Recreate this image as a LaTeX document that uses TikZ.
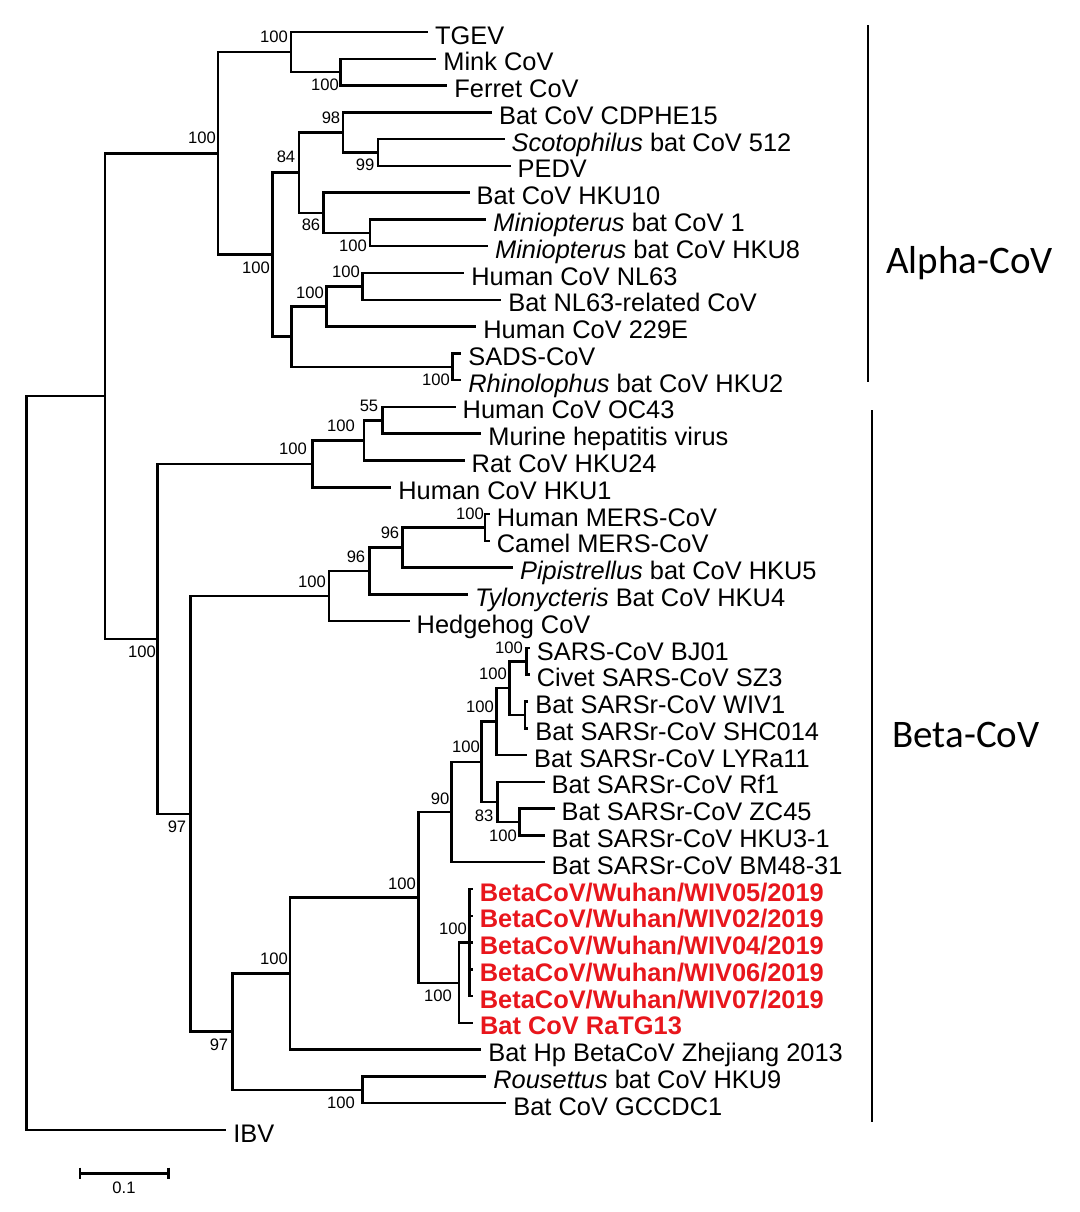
\documentclass[tikz,border=0pt]{standalone}
\usepackage{fontspec}
\setmainfont{Liberation Sans}
\newfontfamily\grpfont{Carlito}
\definecolor{wred}{RGB}{232,22,28}
\begin{document}
\begin{tikzpicture}[x=0.5pt,y=-0.5pt,
  br/.style={line width=1.25pt, line join=miter, line cap=rect},
  bar/.style={line width=1.2pt},
  leaf/.style={anchor=base west, inner sep=0pt, xshift=4pt, yshift=-6pt, font=\fontsize{12.7}{14}\selectfont},
  redleaf/.style={leaf, text=wred, font=\fontsize{12.7}{14}\selectfont\bfseries},
  bs/.style={inner sep=0pt, font=\fontsize{8.3}{9}\selectfont},
  grp/.style={anchor=west, inner sep=0pt, font=\grpfont\fontsize{19.5}{22}\selectfont}]
\useasboundingbox (0,0) rectangle (1080,1212);
\fill[white] (0,0) rectangle (1080,1212);
% leaf ends
\coordinate (e0) at (426.7,32.0);
\coordinate (e1) at (435,58.8);
\coordinate (e2) at (446,85.6);
\coordinate (e3) at (490.7,112.3);
\coordinate (e4) at (503.3,139.1);
\coordinate (e5) at (509.3,165.9);
\coordinate (e6) at (468.3,192.7);
\coordinate (e7) at (485,219.5);
\coordinate (e8) at (486.7,246.2);
\coordinate (e9) at (463,273.0);
\coordinate (e10) at (500,299.8);
\coordinate (e11) at (475,326.6);
\coordinate (e12) at (460,353.4);
\coordinate (e13) at (460,380.1);
\coordinate (e14) at (454.3,406.9);
\coordinate (e15) at (480,433.7);
\coordinate (e16) at (463.3,460.5);
\coordinate (e17) at (390,487.3);
\coordinate (e18) at (488.5,514.0);
\coordinate (e19) at (488.5,540.8);
\coordinate (e20) at (511.7,567.6);
\coordinate (e21) at (466.7,594.4);
\coordinate (e22) at (408.3,621.2);
\coordinate (e23) at (528.5,648.0);
\coordinate (e24) at (528.5,674.7);
\coordinate (e25) at (527,701.5);
\coordinate (e26) at (527,728.3);
\coordinate (e27) at (525.7,755.1);
\coordinate (e28) at (543.3,781.8);
\coordinate (e29) at (553.3,808.6);
\coordinate (e30) at (543.3,835.4);
\coordinate (e31) at (543.3,862.2);
\coordinate (e32) at (471.5,889.0);
\coordinate (e33) at (471.5,915.8);
\coordinate (e34) at (471.5,942.5);
\coordinate (e35) at (471.5,969.3);
\coordinate (e36) at (471.5,996.1);
\coordinate (e37) at (471.7,1022.9);
\coordinate (e38) at (480,1049.6);
\coordinate (e39) at (485,1076.4);
\coordinate (e40) at (505,1103.2);
\coordinate (e41) at (225,1130.0);
% internal nodes
\coordinate (nmf) at (340.7,72.2);
\coordinate (ntg) at (291,52.1);
\coordinate (n99) at (378,152.5);
\coordinate (n98) at (343,132.4);
\coordinate (nmini) at (370,232.9);
\coordinate (n86) at (323.3,212.8);
\coordinate (n84) at (299,172.6);
\coordinate (nnl) at (362.7,286.4);
\coordinate (nnl2) at (326.7,306.5);
\coordinate (nsads) at (452.7,366.8);
\coordinate (ndup) at (291.7,336.6);
\coordinate (na2) at (272.5,254.6);
\coordinate (nalpha) at (218,153.4);
\coordinate (n55) at (382.3,420.3);
\coordinate (ne2) at (364,440.4);
\coordinate (ne1) at (312.3,463.9);
\coordinate (nmers) at (485,527.4);
\coordinate (n96a) at (402.7,547.5);
\coordinate (n96b) at (369.3,571.0);
\coordinate (nmerb) at (329,596.1);
\coordinate (nbj) at (526.7,661.4);
\coordinate (nwiv) at (525,714.9);
\coordinate (ns3) at (509.3,688.2);
\coordinate (ns2) at (496.7,721.7);
\coordinate (nzc) at (519.3,822.0);
\coordinate (n83) at (497.3,801.9);
\coordinate (ns1) at (481.7,761.8);
\coordinate (n90) at (451.7,812.0);
\coordinate (nred) at (469.3,942.6);
\coordinate (nrt) at (459,982.8);
\coordinate (nsc2) at (418.3,897.4);
\coordinate (nsarb) at (290,973.5);
\coordinate (nhku9) at (362.7,1089.8);
\coordinate (n97) at (232.3,1031.7);
\coordinate (nb2) at (190.7,813.9);
\coordinate (nbeta) at (157.3,638.9);
\coordinate (nab) at (105,396.2);
\coordinate (root) at (26.7,763.1);
% branches
\foreach \p/\c in {root/nab, root/e41, nab/nalpha, nab/nbeta,
  nalpha/ntg, nalpha/na2, ntg/e0, ntg/nmf, nmf/e1, nmf/e2,
  na2/n84, na2/ndup, n84/n98, n84/n86, n98/e3, n98/n99, n99/e4, n99/e5,
  n86/e6, n86/nmini, nmini/e7, nmini/e8, ndup/nnl2, ndup/nsads,
  nnl2/nnl, nnl2/e11, nnl/e9, nnl/e10, nsads/e12, nsads/e13,
  nbeta/ne1, nbeta/nb2, ne1/ne2, ne1/e17, ne2/n55, ne2/e16, n55/e14, n55/e15,
  nb2/nmerb, nb2/n97, nmerb/n96b, nmerb/e22, n96b/n96a, n96b/e21,
  n96a/nmers, n96a/e20, nmers/e18, nmers/e19,
  n97/nsarb, n97/nhku9, nsarb/nsc2, nsarb/e38, nsc2/n90, nsc2/nrt,
  n90/ns1, n90/e31, ns1/ns2, ns1/n83, ns2/ns3, ns2/e27, ns3/nbj, ns3/nwiv,
  nbj/e23, nbj/e24, nwiv/e25, nwiv/e26, n83/e28, n83/nzc, nzc/e29, nzc/e30,
  nrt/nred, nrt/e37, nred/e32, nred/e33, nred/e34, nred/e35, nred/e36,
  nhku9/e39, nhku9/e40}
  \draw[br] (\p) |- (\c);
% leaf labels
\node[leaf] (t0) at (e0) {TGEV};
\node[leaf] (t1) at (e1) {Mink CoV};
\node[leaf] (t2) at (e2) {Ferret CoV};
\node[leaf] (t3) at (e3) {Bat CoV CDPHE15};
\node[leaf] (t4) at (e4) {\textit{Scotophilus} bat CoV 512};
\node[leaf] (t5) at (e5) {PEDV};
\node[leaf] (t6) at (e6) {Bat CoV HKU10};
\node[leaf] (t7) at (e7) {\textit{Miniopterus} bat CoV 1};
\node[leaf] (t8) at (e8) {\textit{Miniopterus} bat CoV HKU8};
\node[leaf] (t9) at (e9) {Human CoV NL63};
\node[leaf] (t10) at (e10) {Bat NL63-related CoV};
\node[leaf] (t11) at (e11) {Human CoV 229E};
\node[leaf] (t12) at (e12) {SADS-CoV};
\node[leaf] (t13) at (e13) {\textit{Rhinolophus} bat CoV HKU2};
\node[leaf] (t14) at (e14) {Human CoV OC43};
\node[leaf] (t15) at (e15) {Murine hepatitis virus};
\node[leaf] (t16) at (e16) {Rat CoV HKU24};
\node[leaf] (t17) at (e17) {Human CoV HKU1};
\node[leaf] (t18) at (e18) {Human MERS-CoV};
\node[leaf] (t19) at (e19) {Camel MERS-CoV};
\node[leaf] (t20) at (e20) {\textit{Pipistrellus} bat CoV HKU5};
\node[leaf] (t21) at (e21) {\textit{Tylonycteris} Bat CoV HKU4};
\node[leaf] (t22) at (e22) {Hedgehog CoV};
\node[leaf] (t23) at (e23) {SARS-CoV BJ01};
\node[leaf] (t24) at (e24) {Civet SARS-CoV SZ3};
\node[leaf] (t25) at (e25) {Bat SARSr-CoV WIV1};
\node[leaf] (t26) at (e26) {Bat SARSr-CoV SHC014};
\node[leaf] (t27) at (e27) {Bat SARSr-CoV LYRa11};
\node[leaf] (t28) at (e28) {Bat SARSr-CoV Rf1};
\node[leaf] (t29) at (e29) {Bat SARSr-CoV ZC45};
\node[leaf] (t30) at (e30) {Bat SARSr-CoV HKU3-1};
\node[leaf] (t31) at (e31) {Bat SARSr-CoV BM48-31};
\node[redleaf] (t32) at (e32) {BetaCoV/Wuhan/WIV05/2019};
\node[redleaf] (t33) at (e33) {BetaCoV/Wuhan/WIV02/2019};
\node[redleaf] (t34) at (e34) {BetaCoV/Wuhan/WIV04/2019};
\node[redleaf] (t35) at (e35) {BetaCoV/Wuhan/WIV06/2019};
\node[redleaf] (t36) at (e36) {BetaCoV/Wuhan/WIV07/2019};
\node[redleaf] (t37) at (e37) {Bat CoV RaTG13};
\node[leaf] (t38) at (e38) {Bat Hp BetaCoV Zhejiang 2013};
\node[leaf] (t39) at (e39) {\textit{Rousettus} bat CoV HKU9};
\node[leaf] (t40) at (e40) {Bat CoV GCCDC1};
\node[leaf] (t41) at (e41) {IBV};
% bootstrap values
\node[bs] (b1) at (274,37) {100};
\node[bs] (b2) at (325,85) {100};
\node[bs] (b3) at (202,138) {100};
\node[bs] (b4) at (331,118) {98};
\node[bs] (b5) at (365,165) {99};
\node[bs] (b6) at (286,157) {84};
\node[bs] (b7) at (311,225) {86};
\node[bs] (b8) at (353,246) {100};
\node[bs] (b9) at (256,268) {100};
\node[bs] (b10) at (346,272) {100};
\node[bs] (b11) at (310,293) {100};
\node[bs] (b12) at (436,380) {100};
\node[bs] (b13) at (142,652) {100};
\node[bs] (b14) at (369,406) {55};
\node[bs] (b15) at (341,426) {100};
\node[bs] (b16) at (293,449) {100};
\node[bs] (b17) at (390,533) {96};
\node[bs] (b18) at (356,557) {96};
\node[bs] (b19) at (312,582) {100};
\node[bs] (b20) at (470,514) {100};
\node[bs] (b21) at (509,648) {100};
\node[bs] (b22) at (493,674) {100};
\node[bs] (b23) at (480,707) {100};
\node[bs] (b24) at (466,747) {100};
\node[bs] (b25) at (440,799) {90};
\node[bs] (b26) at (484,816) {83};
\node[bs] (b27) at (503,836) {100};
\node[bs] (b28) at (402,884) {100};
\node[bs] (b29) at (453,929) {100};
\node[bs] (b30) at (438,996) {100};
\node[bs] (b31) at (274,959) {100};
\node[bs] (b32) at (219,1045) {97};
\node[bs] (b33) at (341,1103) {100};
\node[bs] (b34) at (177,827) {97};
% group bars
\coordinate (ga1) at (867.7,25);
\coordinate (ga2) at (867.7,381.7);
\coordinate (gb1) at (872,410);
\coordinate (gb2) at (872,1121.7);
\draw[bar] (ga1) -- (ga2);
\draw[bar] (gb1) -- (gb2);
\node[grp] (galpha) at (886,263) {Alpha-CoV};
\node[grp] (gbeta) at (892,735) {Beta-CoV};
% scale bar
\coordinate (sa) at (80,1173.3);
\coordinate (sb) at (168.3,1173.3);
\draw[bar] (sa) -- (sb);
\draw[bar] ([yshift=2.8pt]sa) -- ([yshift=-2.8pt]sa);
\draw[bar] ([yshift=2.8pt]sb) -- ([yshift=-2.8pt]sb);
\node[bs] (sl) at (124,1188) {0.1};
\end{tikzpicture}
\end{document}
